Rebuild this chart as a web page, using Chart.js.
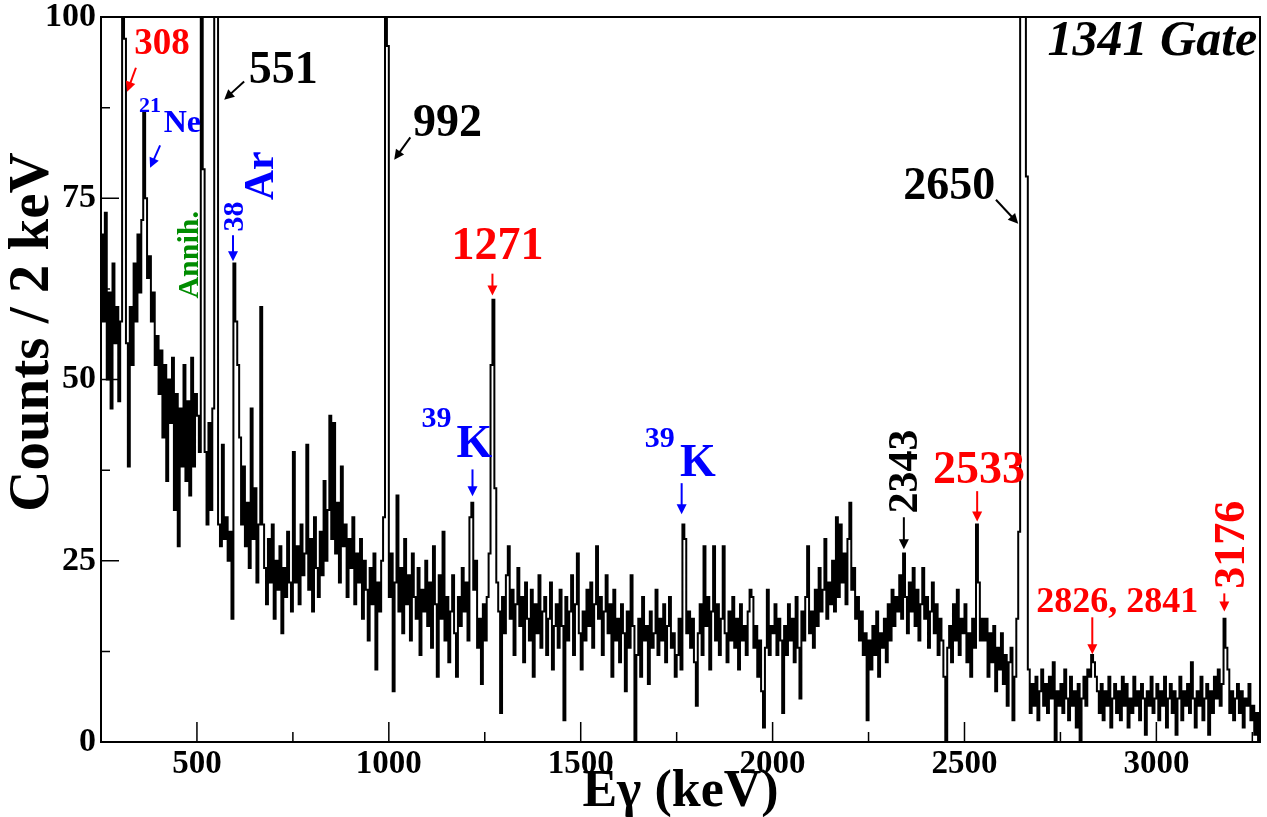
<!DOCTYPE html>
<html>
<head>
<meta charset="utf-8">
<script src="https://cdn.jsdelivr.net/npm/chart.js@4.4.0/dist/chart.umd.min.js"></script>
<style>
  html, body { margin: 0; padding: 0; background: #fff; }
  canvas { display: block; }
</style>
</head>
<body>
<canvas id="spectrum" width="1267" height="817"></canvas>
<script>
// --- spectrum data: counts per bin, one array per 250 keV ---
const binWidth = 5;
const counts250 = [
  70, 58, 73, 50, 62, 46, 66, 55, 60, 47,
  58, 150, 97, 55, 38, 60, 52, 66, 58, 70,
  62, 72, 87, 75, 64, 67, 58, 62, 52, 56,
  48, 54, 42, 52, 36, 50, 44, 53, 32, 48,
  27, 46, 38, 52, 36, 47, 34, 53, 38, 48
];
const counts500 = [
  45, 40, 150, 79, 40, 30, 44, 32, 46, 150,
  150, 30, 27, 41, 28, 31, 25, 29, 17, 66,
  58, 52, 42, 30, 38, 27, 33, 24, 46, 28,
  35, 22, 30, 60, 30, 24, 19, 28, 22, 30,
  17, 25, 21, 27, 15, 24, 20, 29, 22, 18
];
const counts750 = [
  40, 22, 27, 19, 30, 23, 26, 41, 21, 28,
  18, 31, 24, 20, 29, 23, 36, 25, 32, 45,
  28, 44, 26, 33, 22, 38, 27, 30, 20, 28,
  24, 31, 19, 26, 22, 28, 17, 25, 21, 14,
  24, 19, 26, 10, 22, 18, 25, 31, 150, 96
];
const counts1000 = [
  20, 26, 7, 22, 34, 18, 24, 15, 28, 19,
  23, 14, 26, 20, 17, 24, 12, 21, 18, 25,
  16, 22, 13, 27, 19, 9, 23, 17, 29, 14,
  20, 11, 18, 23, 15, 9, 20, 16, 24, 18,
  22, 14, 31, 33, 21, 25, 13, 17, 8, 19
];
const counts1250 = [
  14, 20, 26, 52, 61, 35, 22, 18, 4, 20,
  15, 23, 27, 17, 21, 12, 19, 24, 16, 20,
  11, 22, 17, 14, 21, 9, 19, 15, 23, 13,
  18, 20, 12, 17, 22, 10, 16, 19, 13, 21,
  16, 3, 20, 14, 18, 23, 12, 19, 26, 15
];
const counts1500 = [
  10, 18, 14, 21, 16, 22, 13, 19, 27, 17,
  20, 12, 18, 23, 15, 19, 9, 21, 14, 17,
  11, 19, 15, 7, 18, 13, 23, 16, 0, 12,
  17, 9, 20, 14, 16, 8, 18, 13, 15, 21,
  12, 17, 14, 19, 11, 16, 20, 13, 15, 9
];
const counts1750 = [
  12, 17, 10, 30, 28, 15, 18, 13, 17, 11,
  5, 15, 19, 12, 27, 16, 20, 10, 18, 27,
  14, 19, 12, 17, 27, 15, 11, 18, 14, 20,
  13, 17, 10, 19, 14, 16, 12, 18, 21, 20,
  13, 16, 9, 14, 7, 2, 13, 21, 12, 16
];
const counts2000 = [
  15, 19, 12, 17, 14, 4, 16, 12, 19, 14,
  17, 11, 20, 13, 6, 18, 14, 20, 27, 15,
  18, 13, 21, 16, 24, 18, 21, 28, 17, 22,
  19, 25, 18, 31, 20, 30, 22, 26, 19, 28,
  33, 21, 24, 17, 20, 14, 18, 12, 15, 3
];
const counts2250 = [
  14, 10, 16, 12, 18, 9, 15, 13, 17, 11,
  19, 14, 21, 16, 20, 18, 23, 17, 26, 20,
  15, 22, 18, 24, 16, 21, 14, 19, 24, 17,
  20, 13, 18, 22, 15, 19, 12, 17, 14, 9,
  0, 13, 16, 11, 19, 14, 21, 12, 17, 15
];
const counts2500 = [
  19, 11, 15, 9, 17, 13, 30, 22, 14, 17,
  14, 17, 9, 15, 11, 16, 7, 13, 10, 15,
  8, 12, 5, 11, 13, 3, 9, 17, 29, 150,
  150, 150, 78, 10, 4, 8, 5, 9, 3, 7,
  10, 5, 8, 4, 9, 6, 11, 0, 7, 5
];
const counts2750 = [
  8, 4, 10, 6, 3, 9, 5, 7, 2, 8,
  0, 6, 9, 5, 10, 9, 12, 11, 9, 7,
  4, 8, 3, 7, 5, 9, 2, 6, 8, 4,
  7, 3, 9, 5, 8, 2, 6, 4, 9, 5,
  7, 3, 8, 6, 1, 7, 5, 9, 4, 6
];
const counts3000 = [
  8, 3, 7, 5, 9, 2, 6, 8, 4, 7,
  1, 6, 9, 3, 7, 5, 8, 4, 11, 6,
  2, 7, 5, 9, 3, 6, 8, 1, 7, 4,
  9, 6, 10, 5, 8, 17, 13, 10, 4, 7,
  3, 6, 8, 4, 7, 2, 6, 5, 8, 3,
  5, 1, 4, 0
];

const xTicks = [500, 1000, 1500, 2000, 2500, 3000];
const xMinorTicks = [750, 1250, 1750, 2250, 2750, 3250];
const yTicks = [0, 25, 50, 75, 100];
const yMinorTicks = [12.5, 37.5, 62.5, 87.5];

const segments = [counts250, counts500, counts750, counts1000, counts1250, counts1500,
  counts1750, counts2000, counts2250, counts2500, counts2750, counts3000];
const points = [];
segments.forEach((seg, i) => {
  const start = 250 + 250 * i;
  seg.forEach((v, j) => points.push({ x: start + j * binWidth, y: v }));
});
const lastPt = points[points.length - 1];
points.push({ x: lastPt.x + binWidth, y: lastPt.y });

// --- annotations (in keV / counts) ---
const RED = '#ff0000', BLUE = '#0000ff', GREEN = '#008c00', BLACK = '#000000';
const notes = [
  { text: '308', x: 409, y: 96.2, color: RED, size: 37 },
  { text: '21', x: 378, y: 87.7, color: BLUE, size: 22 },
  { text: 'Ne', x: 462, y: 85.3, color: BLUE, size: 32 },
  { text: 'Annih.', x: 482, y: 67.2, color: GREEN, size: 30, rot: true },
  { text: '551', x: 725, y: 92.5, color: BLACK, size: 46 },
  { text: '38', x: 600, y: 72.5, color: BLUE, size: 30, rot: true },
  { text: 'Ar', x: 670, y: 78.1, color: BLUE, size: 42, rot: true },
  { text: '992', x: 1153, y: 85.2, color: BLACK, size: 46 },
  { text: '1271', x: 1283, y: 68.2, color: RED, size: 46 },
  { text: '39', x: 1124, y: 44.5, color: BLUE, size: 30 },
  { text: 'K', x: 1223, y: 41.0, color: BLUE, size: 46 },
  { text: '39', x: 1706, y: 41.7, color: BLUE, size: 30 },
  { text: 'K', x: 1805, y: 38.3, color: BLUE, size: 46 },
  { text: '2343', x: 2348, y: 37.3, color: BLACK, size: 42, rot: true },
  { text: '2533', x: 2538, y: 37.3, color: RED, size: 46 },
  { text: '2650', x: 2460, y: 76.5, color: BLACK, size: 46 },
  { text: '2826, 2841', x: 2898, y: 19.2, color: RED, size: 36 },
  { text: '3176', x: 3198, y: 27.2, color: RED, size: 44, rot: true },
  { text: '1341 Gate', x: 3263, y: 96.6, color: BLACK, size: 50, italic: true, align: 'right' }
];
const arrows = [
  { from: [341, 93.0], to: [318, 89.7], color: RED },
  { from: [404, 82.3], to: [378, 79.2], color: BLUE },
  { from: [623, 91.1], to: [571, 88.6], color: BLACK },
  { from: [594, 69.9], to: [594, 66.3], color: BLUE },
  { from: [1056, 83.4], to: [1014, 80.3], color: BLACK },
  { from: [1270, 64.6], to: [1270, 61.6], color: RED },
  { from: [1218, 37.6], to: [1218, 33.9], color: BLUE },
  { from: [1763, 35.7], to: [1763, 31.4], color: BLUE },
  { from: [2342, 31.0], to: [2342, 26.6], color: BLACK },
  { from: [2533, 34.6], to: [2533, 30.4], color: RED },
  { from: [2582, 74.8], to: [2640, 71.5], color: BLACK },
  { from: [2833, 17.2], to: [2833, 12.1], color: RED },
  { from: [3177, 20.5], to: [3177, 18.0], color: RED }
];

const SERIF = '"Liberation Serif", "Times New Roman", serif';

// frame, inside ticks, labels, arrows, axis titles
const overlay = {
  id: 'overlay',
  afterDatasetsDraw(chart) {
    const { ctx, chartArea: a, scales: { x, y } } = chart;
    ctx.save();
    ctx.strokeStyle = '#000';
    ctx.lineWidth = 2;
    ctx.strokeRect(a.left, a.top, a.right - a.left, a.bottom - a.top);

    ctx.lineWidth = 1.5;
    ctx.beginPath();
    xTicks.forEach(v => { const p = x.getPixelForValue(v); ctx.moveTo(p, a.bottom); ctx.lineTo(p, a.bottom - 20); });
    xMinorTicks.forEach(v => { const p = x.getPixelForValue(v); ctx.moveTo(p, a.bottom); ctx.lineTo(p, a.bottom - 10); });
    yTicks.forEach(v => { const p = y.getPixelForValue(v); ctx.moveTo(a.left, p); ctx.lineTo(a.left + 18, p); });
    yMinorTicks.forEach(v => { const p = y.getPixelForValue(v); ctx.moveTo(a.left, p); ctx.lineTo(a.left + 9, p); });
    ctx.stroke();

    arrows.forEach(ar => {
      const x1 = x.getPixelForValue(ar.from[0]), y1 = y.getPixelForValue(ar.from[1]);
      const x2 = x.getPixelForValue(ar.to[0]), y2 = y.getPixelForValue(ar.to[1]);
      const ang = Math.atan2(y2 - y1, x2 - x1);
      ctx.strokeStyle = ar.color;
      ctx.fillStyle = ar.color;
      ctx.lineWidth = 2;
      ctx.beginPath();
      ctx.moveTo(x1, y1);
      ctx.lineTo(x2 - 6 * Math.cos(ang), y2 - 6 * Math.sin(ang));
      ctx.stroke();
      ctx.beginPath();
      ctx.moveTo(x2, y2);
      ctx.lineTo(x2 - 10 * Math.cos(ang) + 5 * Math.sin(ang), y2 - 10 * Math.sin(ang) - 5 * Math.cos(ang));
      ctx.lineTo(x2 - 10 * Math.cos(ang) - 5 * Math.sin(ang), y2 - 10 * Math.sin(ang) + 5 * Math.cos(ang));
      ctx.closePath();
      ctx.fill();
    });

    notes.forEach(n => {
      ctx.save();
      ctx.fillStyle = n.color;
      ctx.font = (n.italic ? 'italic ' : '') + 'bold ' + n.size + 'px ' + SERIF;
      ctx.textAlign = n.align || 'center';
      ctx.textBaseline = 'middle';
      ctx.translate(x.getPixelForValue(n.x), y.getPixelForValue(n.y));
      if (n.rot) ctx.rotate(-Math.PI / 2);
      ctx.fillText(n.text, 0, 0);
      ctx.restore();
    });

    ctx.fillStyle = '#000';
    ctx.textAlign = 'center';
    ctx.textBaseline = 'middle';
    ctx.font = 'bold 52px ' + SERIF;
    ctx.fillText('E\u03b3 (keV)', (a.left + a.right) / 2, 793);
    ctx.save();
    ctx.translate(33, 332);
    ctx.rotate(-Math.PI / 2);
    ctx.font = 'bold 57px ' + SERIF;
    ctx.fillText('Counts / 2 keV', 0, 0);
    ctx.restore();
    ctx.restore();
  }
};

new Chart(document.getElementById('spectrum'), {
  type: 'line',
  data: {
    datasets: [{
      data: points,
      stepped: true,
      borderColor: '#000',
      borderWidth: 2,
      pointRadius: 0,
      fill: false
    }]
  },
  options: {
    responsive: false,
    animation: false,
    devicePixelRatio: 1,
    parsing: false,
    layout: { padding: { top: 17, right: 7, left: 0, bottom: 0 } },
    plugins: { legend: { display: false }, tooltip: { enabled: false } },
    scales: {
      x: {
        type: 'linear',
        min: 250,
        max: 3270,
        afterBuildTicks: s => { s.ticks = xTicks.map(v => ({ value: v })); },
        afterFit: s => { s.height = 75; s.paddingLeft = 0; s.paddingRight = 0; },
        grid: { display: false, drawTicks: false },
        border: { display: false },
        ticks: { color: '#000', padding: 3, maxRotation: 0, autoSkip: false,
          callback: v => String(v),
          font: { family: SERIF, weight: 'bold', size: 33 } }
      },
      y: {
        min: 0,
        max: 100,
        afterBuildTicks: s => { s.ticks = yTicks.map(v => ({ value: v })); },
        afterFit: s => { s.width = 101; s.paddingTop = 0; s.paddingBottom = 0; },
        grid: { display: false, drawTicks: false },
        border: { display: false },
        ticks: { color: '#000', padding: 5,
          callback: v => String(v),
          font: { family: SERIF, weight: 'bold', size: 34 } }
      }
    }
  },
  plugins: [overlay]
});
</script>
</body>
</html>
